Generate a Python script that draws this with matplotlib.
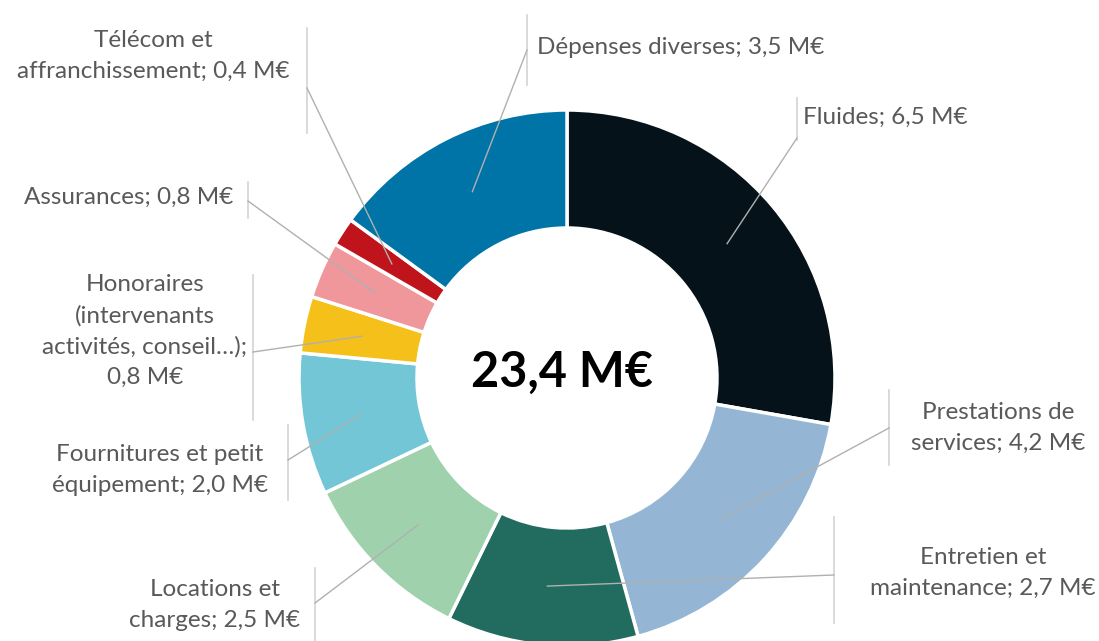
import matplotlib.pyplot as plt
import numpy as np

categories = [
    "Fluides",
    "Prestations de\nservices",
    "Entretien et\nmaintenance",
    "Locations et\ncharges",
    "Fournitures et petit\néquipement",
    "Honoraires\n(intervenants\nactivités, conseil…);\n",
    "Assurances",
    "Télécom et\naffranchissement",
    "Dépenses diverses",
]
values = [6.5, 4.2, 2.7, 2.5, 2.0, 0.8, 0.8, 0.4, 3.5]
colors = ["#06121a", "#94b6d4", "#226b5f", "#9fd1ac", "#73c6d6",
          "#f5c01a", "#f0979b", "#c0141c", "#0074a6"]
total_label = "23,4 M€"

# label layout in pixel coordinates: text x, text y, ha, bar x, bar y0, bar y1, leader y
layout = [
    (803, 117, "left", 797, 98, 140, 138),
    (998, 428, "center", 889, 390, 465, 428),
    (983, 573, "center", 834, 517, 623, 575),
    (215, 605, "center", 315, 568, 641, 603),
    (160, 470, "center", 288, 425, 500, 460),
    (145, 331, "center", 253, 275, 420, 352),
    (233, 197, "right", 248, 182, 218, 201),
    (153, 56, "center", 307, 28, 133, 88),
    (537, 47, "left", 527, 15, 85, 50),
]

CX, CY, R = 567, 378, 268
W, H = 1099, 641


def px(x, y):
    return (x - CX) / R, (CY - y) / R


def fmt(v):
    return f"{v:.1f}".replace(".", ",") + " M€"


plt.rcParams["font.family"] = ["Lato", "DejaVu Sans"]

fig = plt.figure(figsize=(W / 100, H / 100), dpi=100)
ax = fig.add_axes([0, 0, 1, 1])

inner = 150 / R
wedges, _ = ax.pie(values, colors=colors, startangle=90, counterclock=False,
                   radius=1.0,
                   wedgeprops=dict(width=1 - inner, edgecolor="white", linewidth=2.5))

ax.set_xlim(-CX / R, (W - CX) / R)
ax.set_ylim(-(H - CY) / R, CY / R)
ax.set_aspect("equal")
ax.axis("off")

mid_r = (1 + inner) / 2
for wedge, name, value, (tx, ty, ha, bx, by0, by1, ly) in zip(wedges, categories, values, layout):
    ang = np.deg2rad((wedge.theta1 + wedge.theta2) / 2)
    target = (mid_r * np.cos(ang), mid_r * np.sin(ang))
    if name.endswith("\n"):
        text = name + fmt(value)
    else:
        text = name + "; " + fmt(value)
    ax.text(*px(tx, ty), text, ha=ha, va="center", multialignment="center",
            fontsize=17.5, color="#595959", linespacing=1.55)
    x0, y0 = px(bx, by0)
    x1, y1 = px(bx, by1)
    ax.plot([x0, x1], [y0, y1], color="#d3d3d3", lw=1.2)
    lx, lyd = px(bx, ly)
    ax.plot([lx, target[0]], [lyd, target[1]], color="#b0b0b0", lw=1.0)

ax.text(-0.02, 0.02, total_label, ha="center", va="center", fontsize=35,
        fontweight="bold", color="black")

fig.savefig("out.png", dpi=100)
